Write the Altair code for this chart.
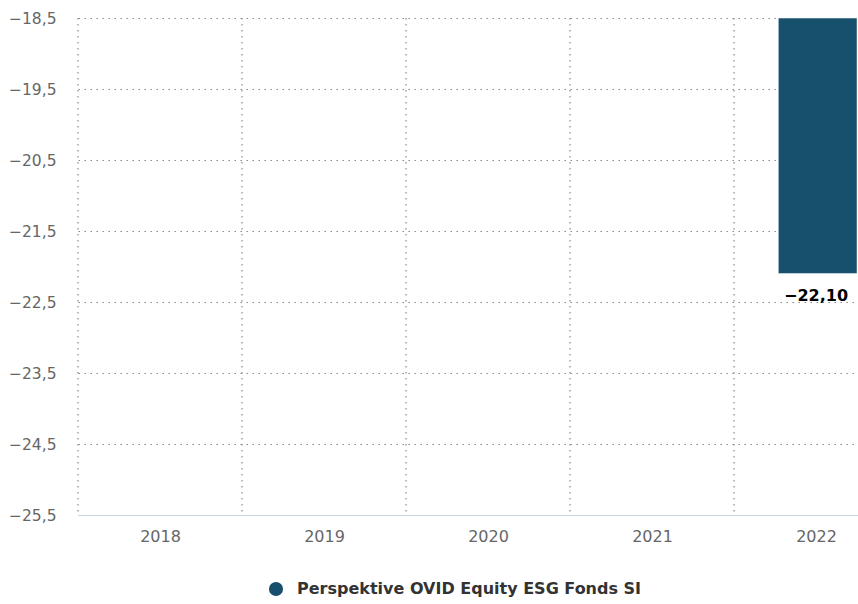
import altair as alt
import pandas as pd

years = ["2018", "2019", "2020", "2021", "2022"]
values = [None, None, None, None, -22.10]
series_name = "Perspektive OVID Equity ESG Fonds SI"
y_ticks = [-25.5, -24.5, -23.5, -22.5, -21.5, -20.5, -19.5, -18.5]

Y_MIN, Y_MAX = -25.5, -18.5
BAR_COLOR = "#17506d"
FONT = "DejaVu Sans"

bars = pd.DataFrame({
    "idx": list(range(len(years))),
    "year": years,
    "value": values,
    "series": series_name,
}).dropna()
bars["x0"] = bars["idx"] - 0.23
bars["x1"] = bars["idx"] + 0.25
bars["top"] = Y_MAX

grid_df = pd.DataFrame({"b": [i - 0.5 for i in range(len(years))]})

x_scale = alt.Scale(domain=[-0.5, 4.256], nice=False, zero=False)
y_scale = alt.Scale(domain=[Y_MIN, Y_MAX], nice=False, zero=False)

label_arr = "[" + ",".join("'%s'" % y for y in years) + "]"

x_axis = alt.Axis(
    values=list(range(len(years))),
    labelExpr=label_arr + "[datum.value]",
    grid=False, ticks=False, title=None,
    domainColor="#ccd6eb", domainWidth=1,
    labelColor="#666666", labelFontSize=16, labelFont=FONT, labelPadding=13,
)
y_axis = alt.Axis(
    values=y_ticks,
    labelExpr="replace(format(datum.value, '.1f'), '.', ',')",
    grid=True, gridDash=[1.5, 4.5], gridColor="#8a8a8a", gridWidth=1.2,
    ticks=False, domain=False, title=None,
    labelColor="#666666", labelFontSize=15.5, labelFont=FONT, labelPadding=22,
)

vgrid = alt.Chart(grid_df).mark_rule(
    strokeDash=[1.5, 4.5], color="#8a8a8a", strokeWidth=1.2
).encode(
    x=alt.X("b:Q", scale=x_scale, axis=x_axis),
    y=alt.value(0), y2=alt.value(497),
)

bar = alt.Chart(bars).mark_bar(stroke="white", strokeWidth=0.5).encode(
    x=alt.X("x0:Q", scale=x_scale, axis=x_axis),
    x2="x1:Q",
    y=alt.Y("value:Q", scale=y_scale, axis=y_axis),
    y2="top:Q",
    color=alt.Color(
        "series:N",
        scale=alt.Scale(domain=[series_name], range=[BAR_COLOR]),
        legend=alt.Legend(
            orient="none", legendX=190, legendY=563, title=None,
            symbolType="circle", symbolSize=200, symbolStrokeWidth=0,
            labelFont=FONT, labelFontSize=16, labelFontWeight="bold",
            labelColor="#333333", labelOffset=13, labelLimit=0,
        ),
    ),
)

text = alt.Chart(bars).transform_calculate(
    lbl="replace(format(datum.value, '.2f'), '.', ',')"
).mark_text(
    font=FONT, fontSize=16, fontWeight=600, color="#000000",
    baseline="middle", dy=22,
).encode(
    x=alt.X("idx:Q", scale=x_scale),
    y=alt.Y("value:Q", scale=y_scale),
    text="lbl:N",
)

chart = alt.layer(vgrid, bar, text).properties(
    width=780, height=497,
    autosize=alt.AutoSizeParams(type="none"),
    padding={"left": 78, "top": 18, "right": 0, "bottom": 89},
).configure_view(stroke=None)

chart.save("out.html", embed_options={"renderer": "svg", "actions": False})
